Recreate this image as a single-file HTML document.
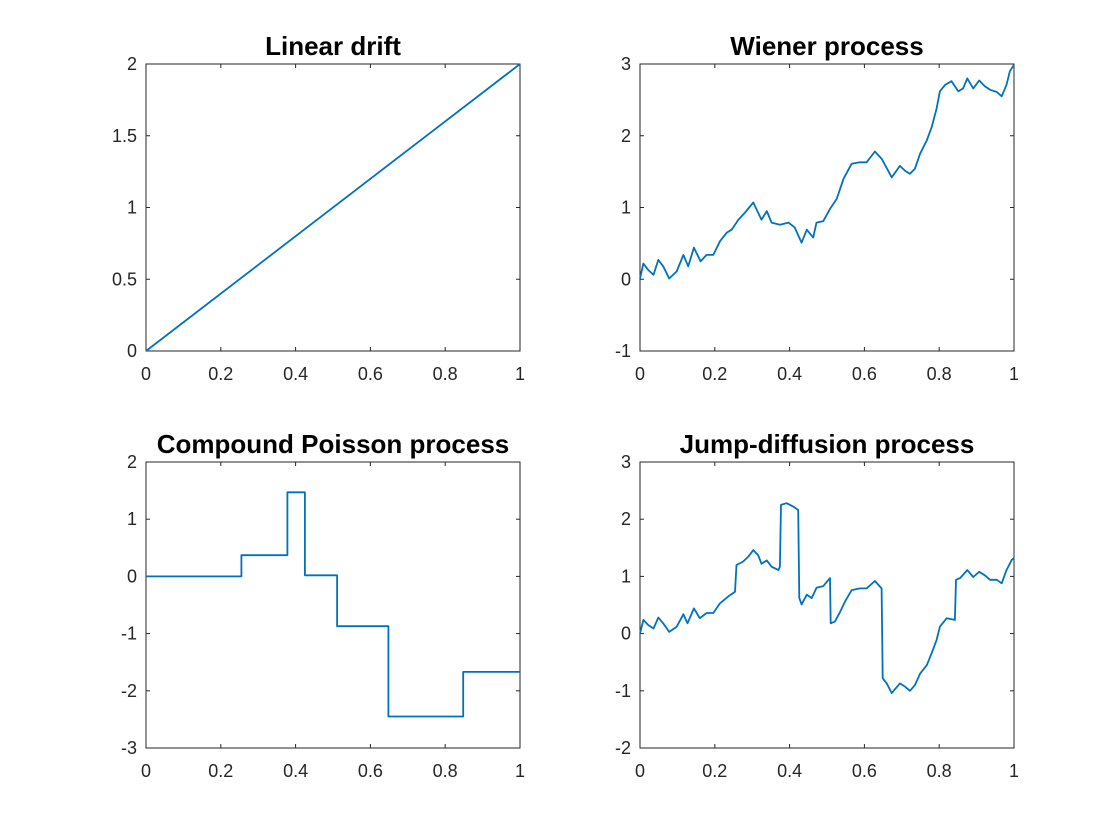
<!DOCTYPE html>
<html><head><meta charset="utf-8"><style>
body{margin:0;background:#fff;}
svg{display:block;font-family:"Liberation Sans",Arial,sans-serif;}
.tk{font-size:18px;fill:#262626;}
.ttl{font-size:26px;font-weight:bold;fill:#000;}
</style></head><body>
<svg id="fig" width="1120" height="840" viewBox="0 0 1120 840" xmlns="http://www.w3.org/2000/svg"></svg>
<script>
// ---- data ----
const linearT = [0, 1];
const linearV = [0, 2];

const wienerT = [0,0.009,0.022,0.036,0.049,0.062,0.078,0.098,0.116,0.129,0.144,0.162,0.178,0.196,0.214,0.232,0.245,0.263,0.281,0.303,0.325,0.339,0.352,0.374,0.397,0.414,0.432,0.446,0.463,0.472,0.490,0.508,0.526,0.544,0.566,0.588,0.606,0.628,0.646,0.664,0.673,0.695,0.709,0.722,0.735,0.749,0.767,0.780,0.793,0.802,0.816,0.833,0.851,0.864,0.875,0.891,0.907,0.922,0.936,0.954,0.967,0.980,0.989,1.0];
const wienerV = [0.01,0.22,0.13,0.06,0.27,0.18,0.01,0.11,0.34,0.18,0.44,0.25,0.34,0.34,0.53,0.65,0.69,0.83,0.93,1.07,0.83,0.95,0.79,0.76,0.79,0.72,0.51,0.69,0.58,0.79,0.81,0.98,1.12,1.40,1.61,1.63,1.63,1.78,1.68,1.51,1.42,1.58,1.51,1.47,1.54,1.75,1.94,2.12,2.38,2.62,2.71,2.76,2.62,2.66,2.80,2.66,2.77,2.69,2.64,2.61,2.55,2.71,2.90,2.99];

const cppT = [0,0.255,0.255,0.378,0.378,0.425,0.425,0.511,0.511,0.648,0.648,0.848,0.848,1.0];
const cppV = [0,0,0.37,0.37,1.47,1.47,0.02,0.02,-0.87,-0.87,-2.45,-2.45,-1.67,-1.67];

const jumpT = [0,0.009,0.022,0.036,0.049,0.062,0.078,0.098,0.116,0.127,0.144,0.160,0.178,0.196,0.214,0.236,0.254,0.258,0.276,0.290,0.303,0.316,0.325,0.339,0.352,0.370,0.374,0.377,0.392,0.410,0.423,0.426,0.432,0.446,0.459,0.472,0.490,0.508,0.510,0.521,0.535,0.548,0.566,0.588,0.606,0.628,0.646,0.649,0.660,0.673,0.695,0.709,0.722,0.735,0.749,0.767,0.780,0.793,0.802,0.820,0.842,0.845,0.856,0.875,0.891,0.907,0.922,0.936,0.954,0.967,0.980,0.994,1.0];
const jumpV = [0,0.24,0.15,0.09,0.28,0.18,0.03,0.12,0.34,0.18,0.44,0.27,0.36,0.36,0.53,0.65,0.73,1.20,1.26,1.35,1.46,1.37,1.22,1.28,1.17,1.11,1.17,2.25,2.28,2.22,2.16,0.62,0.51,0.68,0.62,0.80,0.83,0.97,0.18,0.21,0.38,0.56,0.76,0.79,0.79,0.92,0.79,-0.78,-0.87,-1.04,-0.87,-0.93,-1.00,-0.90,-0.70,-0.55,-0.34,-0.11,0.12,0.27,0.24,0.94,0.97,1.11,0.99,1.08,1.02,0.94,0.94,0.88,1.11,1.29,1.32];

const xTicks = [0,0.2,0.4,0.6,0.8,1];
const xTickLabels = ["0","0.2","0.4","0.6","0.8","1"];

const panels = [
  {name:"linear-drift", title:"Linear drift", x0:146, x1:520, y0:64, y1:351, ymin:0, ymax:2, yt:[0,0.5,1,1.5,2], ytl:["0","0.5","1","1.5","2"], t:linearT, v:linearV},
  {name:"wiener-process", title:"Wiener process", x0:640, x1:1014, y0:64, y1:351, ymin:-1, ymax:3, yt:[-1,0,1,2,3], ytl:["-1","0","1","2","3"], t:wienerT, v:wienerV},
  {name:"compound-poisson", title:"Compound Poisson process", x0:146, x1:520, y0:462, y1:748, ymin:-3, ymax:2, yt:[-3,-2,-1,0,1,2], ytl:["-3","-2","-1","0","1","2"], t:cppT, v:cppV},
  {name:"jump-diffusion", title:"Jump-diffusion process", x0:640, x1:1014, y0:462, y1:748, ymin:-2, ymax:3, yt:[-2,-1,0,1,2,3], ytl:["-2","-1","0","1","2","3"], t:jumpT, v:jumpV}
];

const NS="http://www.w3.org/2000/svg";
const svg=document.getElementById('fig');
function mk(tag,attrs,parent){const e=document.createElementNS(NS,tag);for(const k in attrs)e.setAttribute(k,attrs[k]);parent.appendChild(e);return e;}

panels.forEach(p=>{
  const g=mk('g',{},svg);
  
  
  const sx=t=>p.x0+(t-0)/(1-0)*(p.x1-p.x0);
  const sy=v=>p.y1-(v-p.ymin)/(p.ymax-p.ymin)*(p.y1-p.y0);
  const box=mk('rect',{x:p.x0,y:p.y0,width:p.x1-p.x0,height:p.y1-p.y0,fill:'#fff',stroke:'#262626','stroke-width':1},g);
  
  
  xTicks.forEach((t,i)=>{
    const x=sx(t);
    mk('line',{x1:x,y1:p.y1,x2:x,y2:p.y1-4,stroke:'#262626'},g);
    mk('line',{x1:x,y1:p.y0,x2:x,y2:p.y0+4,stroke:'#262626'},g);
    const tx=mk('text',{x:x,y:p.y1+29,'text-anchor':'middle',class:'tk'},g);
    tx.textContent=xTickLabels[i];
    
    
  });
  p.yt.forEach((v,i)=>{
    const y=sy(v);
    mk('line',{x1:p.x0,y1:y,x2:p.x0+4,y2:y,stroke:'#262626'},g);
    mk('line',{x1:p.x1,y1:y,x2:p.x1-4,y2:y,stroke:'#262626'},g);
    const tx=mk('text',{x:p.x0-9,y:y+6,'text-anchor':'end',class:'tk'},g);
    tx.textContent=p.ytl[i];
    
    
  });
  const d=p.t.map((t,i)=>(i?'L':'M')+sx(t).toFixed(1)+','+sy(p.v[i]).toFixed(1)).join(' ');
  const path=mk('path',{d:d,fill:'none',stroke:'#0072BD','stroke-width':1.8,'stroke-linejoin':'round'},g);
  
  
  const ti=mk('text',{x:(p.x0+p.x1)/2,y:p.y0-9,'text-anchor':'middle',class:'ttl'},g);
  ti.textContent=p.title;
  
  
});
</script>
</body></html>
